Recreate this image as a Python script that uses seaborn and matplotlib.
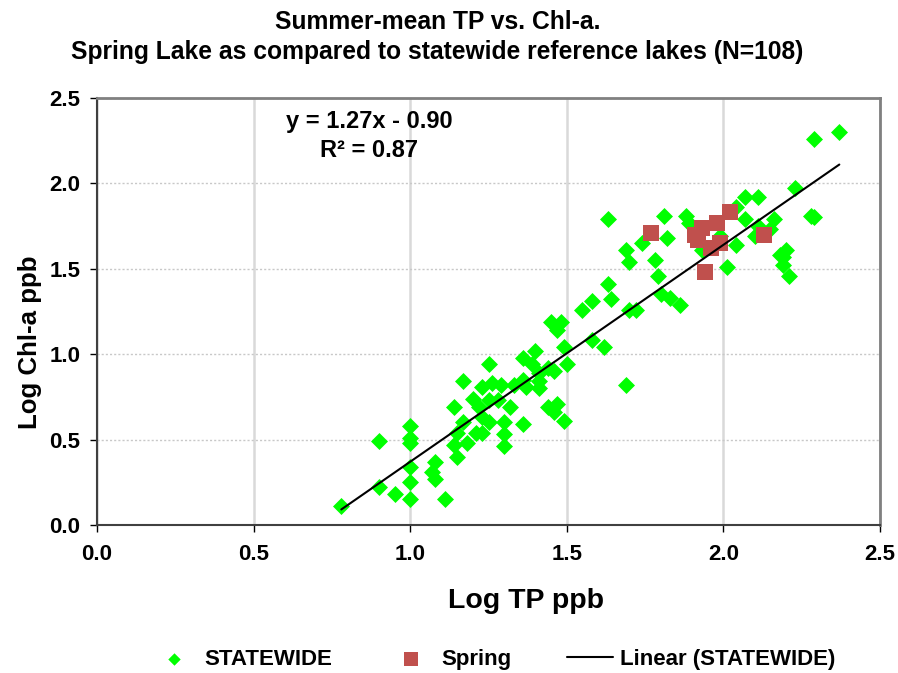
import numpy as np
import pandas as pd
import matplotlib.pyplot as plt
import seaborn as sns

# Statewide reference lakes (log TP ppb, log Chl-a ppb)
statewide_tp = [0.78, 0.90, 0.90, 0.95, 1.00, 1.00, 1.00, 1.00, 1.00, 1.00,
                1.08, 1.07, 1.08, 1.11, 1.14, 1.15, 1.14, 1.15, 1.17, 1.17,
                1.18, 1.20, 1.21, 1.23, 1.55, 1.58, 1.45, 1.48, 1.47, 1.49,
                1.50, 1.58, 1.25, 1.36, 1.40, 1.39, 1.41, 1.44, 1.46, 1.23,
                1.26, 1.29, 1.33, 1.36, 1.41, 1.41, 1.37, 1.25, 1.22, 1.28,
                1.32, 1.44, 1.47, 1.46, 1.49, 1.36, 1.30, 1.25, 1.23, 1.30,
                1.30, 1.63, 1.81, 1.88, 1.89, 1.82, 1.74, 1.69, 1.70, 1.78,
                1.79, 1.80, 1.83, 1.86, 1.63, 1.64, 1.70, 1.72, 1.62, 1.69,
                2.01, 1.93, 1.99, 2.04, 2.04, 2.37, 2.29, 2.23, 2.11, 2.07,
                2.07, 2.16, 2.11, 2.15, 2.10, 2.29, 2.28, 2.20, 2.18, 2.19,
                2.19, 2.21]
statewide_chl = [0.11, 0.49, 0.22, 0.18, 0.58, 0.51, 0.48, 0.34, 0.25, 0.15,
                 0.37, 0.31, 0.27, 0.15, 0.69, 0.54, 0.47, 0.40, 0.84, 0.60,
                 0.48, 0.74, 0.54, 0.54, 1.26, 1.31, 1.19, 1.19, 1.14, 1.04,
                 0.94, 1.08, 0.94, 0.98, 1.02, 0.94, 0.89, 0.92, 0.90, 0.81,
                 0.83, 0.82, 0.82, 0.85, 0.84, 0.80, 0.81, 0.73, 0.69, 0.73,
                 0.69, 0.69, 0.71, 0.66, 0.61, 0.59, 0.60, 0.60, 0.63, 0.53,
                 0.46, 1.79, 1.81, 1.81, 1.77, 1.68, 1.65, 1.61, 1.54, 1.55,
                 1.46, 1.35, 1.33, 1.29, 1.41, 1.32, 1.26, 1.26, 1.04, 0.82,
                 1.51, 1.61, 1.69, 1.64, 1.86, 2.30, 2.26, 1.97, 1.92, 1.92,
                 1.79, 1.79, 1.75, 1.73, 1.69, 1.80, 1.81, 1.61, 1.58, 1.57,
                 1.52, 1.46]

# Spring Lake
spring_tp = [1.77, 1.93, 1.91, 1.92, 1.98, 2.02, 1.96, 1.99, 1.94, 2.13]
spring_chl = [1.71, 1.74, 1.70, 1.67, 1.77, 1.83, 1.62, 1.65, 1.48, 1.70]

# Excel trendline for statewide lakes
slope = 1.27
intercept = -0.90
r_squared = 0.87

tick_values = [0.0, 0.5, 1.0, 1.5, 2.0, 2.5]
tick_labels = ['0.0', '0.5', '1.0', '1.5', '2.0', '2.5']

statewide = pd.DataFrame({'tp': statewide_tp, 'chl': statewide_chl})
spring = pd.DataFrame({'tp': spring_tp, 'chl': spring_chl})
trend_x = np.array([statewide['tp'].min(), statewide['tp'].max()])
trend = pd.DataFrame({'tp': trend_x, 'chl': slope * trend_x + intercept})

sns.set_theme(style="white")
plt.rcParams['font.family'] = ['Liberation Sans', 'DejaVu Sans']
plt.rcParams['font.weight'] = 'bold'
plt.rcParams['text.color'] = 'black'
plt.rcParams['xtick.color'] = 'black'
plt.rcParams['ytick.color'] = 'black'

fig = plt.figure(figsize=(8.98, 6.73), dpi=100)
ax = fig.add_axes([0.108, 0.22, 0.872, 0.6345])

sns.scatterplot(data=statewide, x='tp', y='chl', marker='D', s=75, color='#00ff00',
                linewidth=0, label='STATEWIDE', ax=ax, zorder=3)
sns.scatterplot(data=spring, x='tp', y='chl', marker='s', s=125, color='#c0504d',
                linewidth=0, label='Spring', ax=ax, zorder=4)
sns.lineplot(data=trend, x='tp', y='chl', color='black', linewidth=1.5,
             label='Linear (STATEWIDE)', ax=ax, zorder=5)

ax.set_xlim(0, 2.5)
ax.set_ylim(0, 2.5)
ax.set_xticks(tick_values)
ax.set_yticks(tick_values)
ax.set_xticklabels(tick_labels, fontsize=16, fontweight='bold')
ax.set_yticklabels(tick_labels, fontsize=16, fontweight='bold')
ax.tick_params(axis='both', direction='out', length=5, width=1, color='black',
               bottom=True, left=True)
ax.tick_params(axis='x', pad=9)
ax.tick_params(axis='y', pad=7)
ax.set_xlabel('')
ax.set_ylabel('')

# gridlines: vertical solid, horizontal dotted
ax.set_axisbelow(True)
ax.xaxis.grid(True, color='#d9d9d9', linewidth=1.8, linestyle='-')
ax.yaxis.grid(True, color='#c8c8c8', linewidth=1, linestyle=(0, (1.5, 1.5)))

for side in ['top', 'right']:
    ax.spines[side].set_color('#808080')
    ax.spines[side].set_linewidth(2)
for side in ['left', 'bottom']:
    ax.spines[side].set_color('#404040')
    ax.spines[side].set_linewidth(1.5)

ax.text(0.87, 2.36, f'y = {slope:.2f}x - {abs(intercept):.2f}', ha='center', va='center',
        fontsize=17, fontweight='bold')
ax.text(0.87, 2.195, f'R² = {r_squared:.2f}', ha='center', va='center',
        fontsize=17, fontweight='bold')

fig.text(0.487, 0.957, 'Summer-mean TP vs. Chl-a.', ha='center', va='baseline',
         fontsize=17.7, fontweight='bold')
fig.text(0.487, 0.913, 'Spring Lake as compared to statewide reference lakes (N=108)',
         ha='center', va='baseline', fontsize=17.7, fontweight='bold')
fig.text(0.586, 0.107, 'Log TP ppb', ha='center', va='center', fontsize=20.5, fontweight='bold')
fig.text(0.033, 0.492, 'Log Chl-a ppb', ha='center', va='center', rotation=90,
         fontsize=18.6, fontweight='bold')

handles, labels = ax.get_legend_handles_labels()
ax.get_legend().remove()
leg = fig.legend(handles, labels, loc='center', bbox_to_anchor=(0.549, 0.020), ncol=3,
                 frameon=False, fontsize=16, columnspacing=2.5, handlelength=2.1,
                 handletextpad=0.3)
leg.legend_handles[0].set_sizes([40])
leg.legend_handles[1].set_sizes([110])

fig.savefig('out.png', dpi=100)
